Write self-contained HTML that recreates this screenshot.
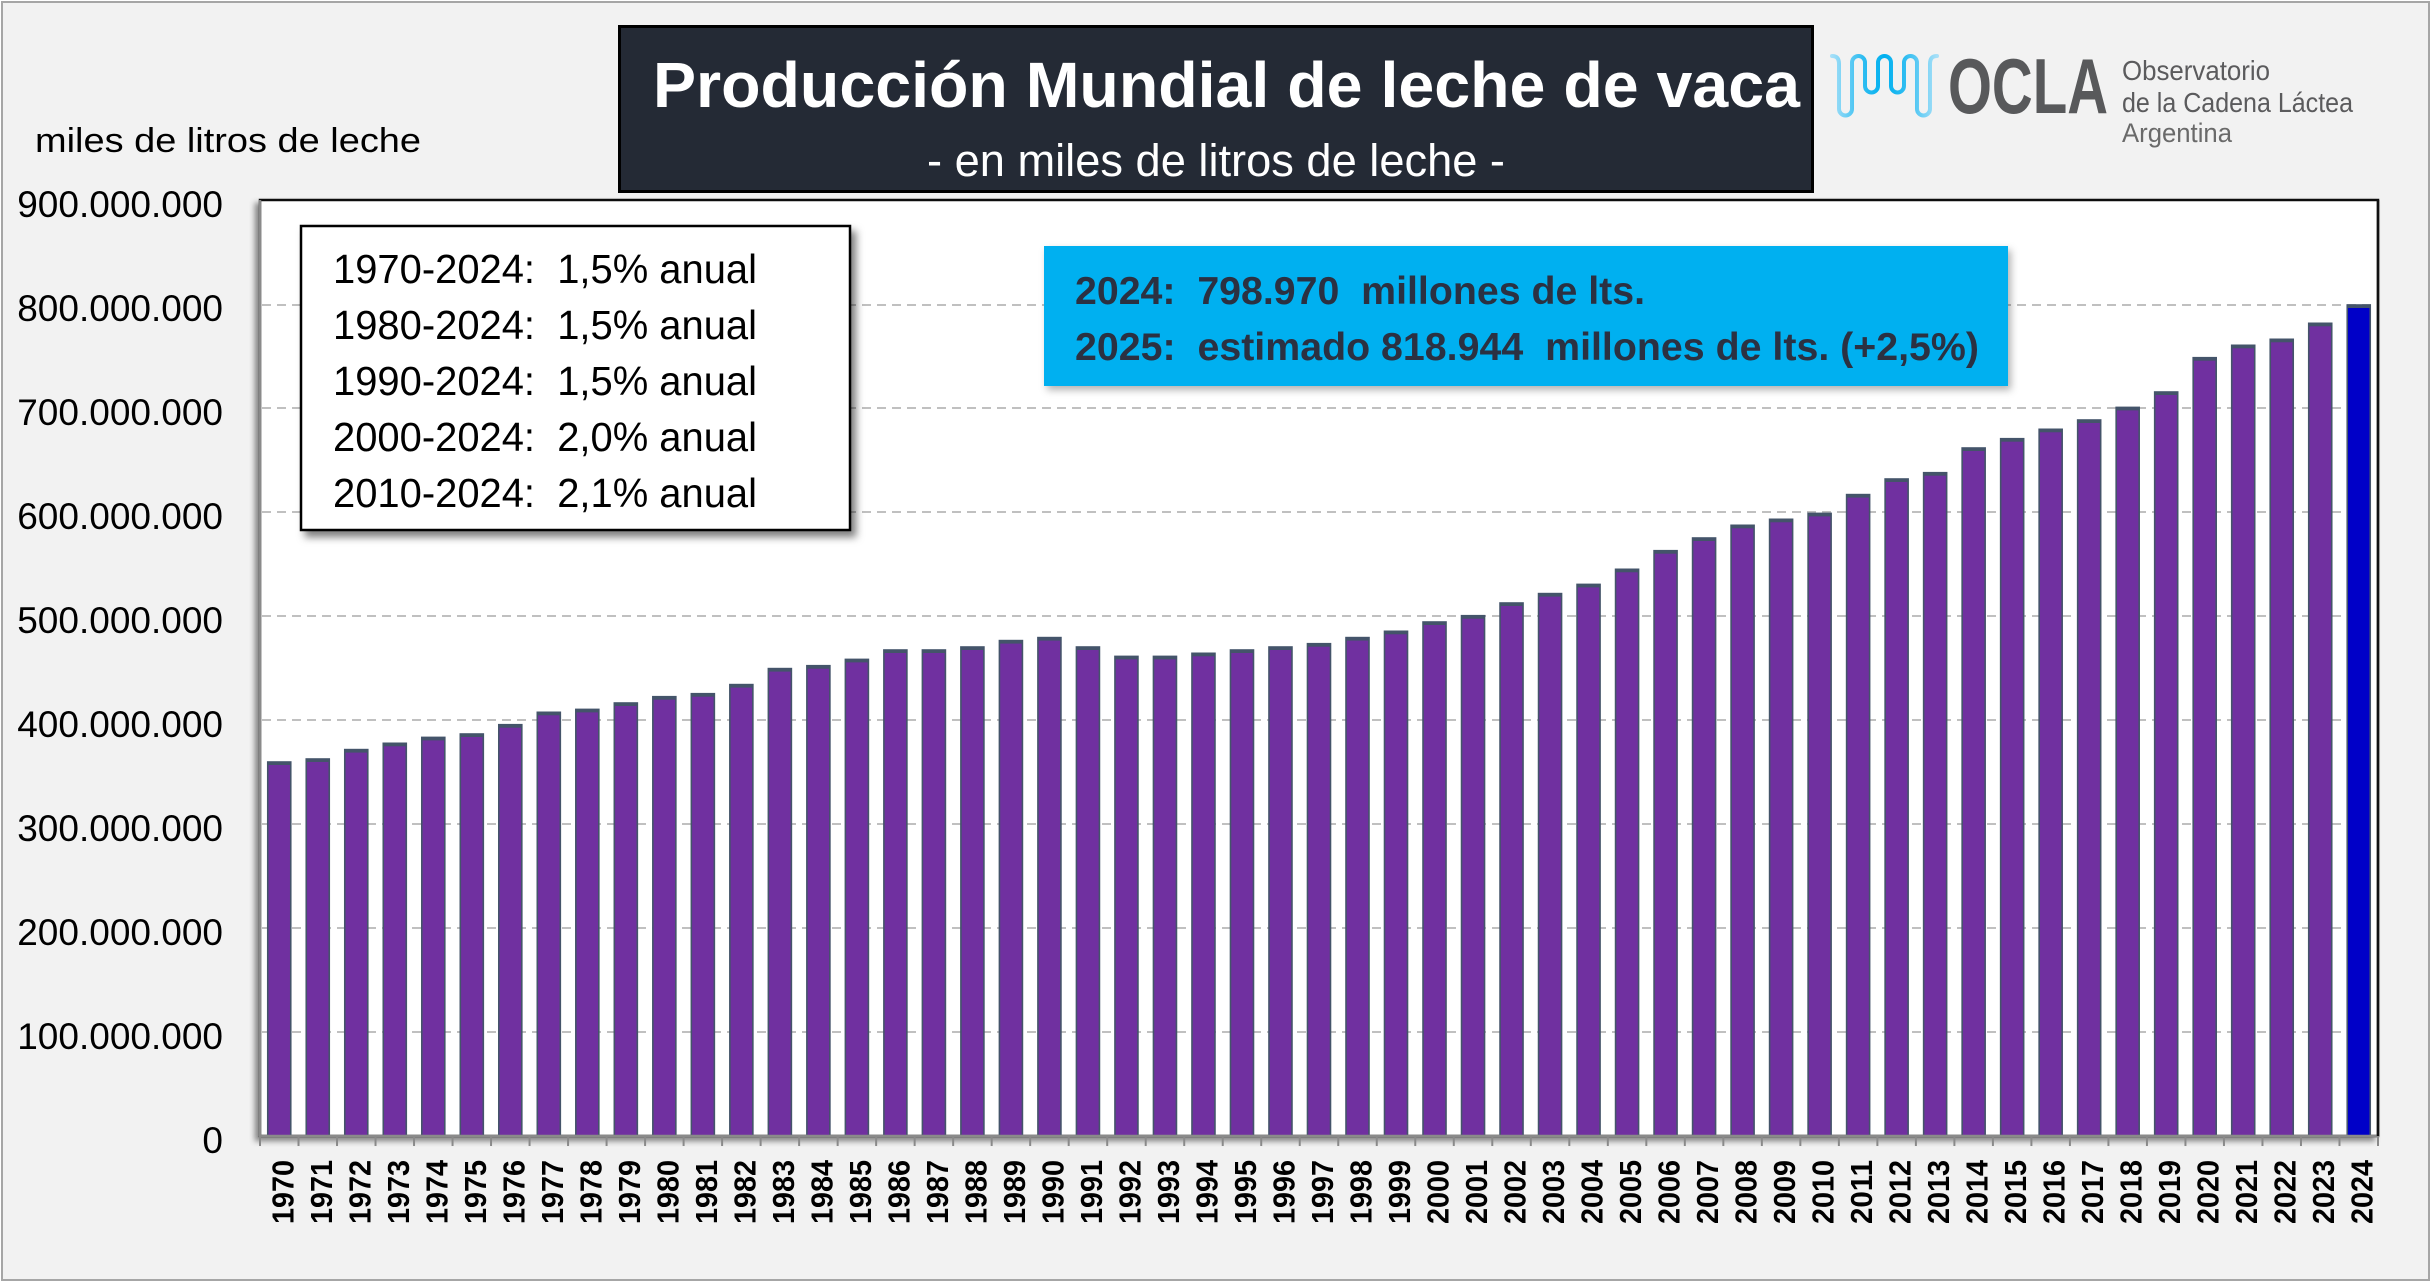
<!DOCTYPE html>
<html>
<head>
<meta charset="utf-8">
<style>
html,body{margin:0;padding:0;background:#ffffff;}
body{width:2434px;height:1282px;overflow:hidden;}
svg{display:block;}
text{white-space:pre;}
</style>
</head>
<body>
<svg width="2434" height="1282" viewBox="0 0 2434 1282" xmlns="http://www.w3.org/2000/svg">
<defs>
  <filter id="shPlot" x="-5%" y="-5%" width="110%" height="110%">
    <feDropShadow dx="-4" dy="4" stdDeviation="3" flood-color="#000" flood-opacity="0.45"/>
  </filter>
  <filter id="shBox" x="-10%" y="-10%" width="120%" height="130%">
    <feDropShadow dx="5" dy="6" stdDeviation="4" flood-color="#000" flood-opacity="0.5"/>
  </filter>
  <filter id="shBlue" x="-10%" y="-20%" width="120%" height="140%">
    <feDropShadow dx="3" dy="4" stdDeviation="4" flood-color="#000" flood-opacity="0.3"/>
  </filter>
  <linearGradient id="wave" x1="1831" y1="0" x2="1937" y2="0" gradientUnits="userSpaceOnUse">
    <stop offset="0" stop-color="#a8e0f8"/>
    <stop offset="0.3" stop-color="#2fbdf1"/>
    <stop offset="0.5" stop-color="#00b0f0"/>
    <stop offset="0.7" stop-color="#2fbdf1"/>
    <stop offset="1" stop-color="#a8e0f8"/>
  </linearGradient>
</defs>

<!-- outer background & frame -->
<rect x="2" y="2" width="2427" height="1278" fill="#f2f2f2" stroke="#a6a6a6" stroke-width="2"/>

<!-- plot area -->
<rect x="260" y="200" width="2118" height="936" fill="#ffffff" stroke="#111" stroke-width="2.5" filter="url(#shPlot)"/>

<!-- gridlines -->
<g stroke="#c0c0c0" stroke-width="2" stroke-dasharray="9 6">
  <line x1="262" y1="1032" x2="2376" y2="1032"/>
  <line x1="262" y1="928" x2="2376" y2="928"/>
  <line x1="262" y1="824" x2="2376" y2="824"/>
  <line x1="262" y1="720" x2="2376" y2="720"/>
  <line x1="262" y1="616" x2="2376" y2="616"/>
  <line x1="262" y1="512" x2="2376" y2="512"/>
  <line x1="262" y1="408" x2="2376" y2="408"/>
  <line x1="262" y1="305" x2="2376" y2="305"/>
</g>

<!-- bars -->
<g fill="#7030a0" stroke="#44546a" stroke-width="1.6">
<rect x="267.75" y="762.0" width="23" height="374.0"/>
<rect x="306.26" y="759.0" width="23" height="377.0"/>
<rect x="344.77" y="749.6" width="23" height="386.4"/>
<rect x="383.28" y="743.3" width="23" height="392.7"/>
<rect x="421.79" y="737.4" width="23" height="398.6"/>
<rect x="460.30" y="734.0" width="23" height="402.0"/>
<rect x="498.80" y="724.7" width="23" height="411.3"/>
<rect x="537.31" y="712.3" width="23" height="423.7"/>
<rect x="575.82" y="709.4" width="23" height="426.6"/>
<rect x="614.33" y="703.0" width="23" height="433.0"/>
<rect x="652.84" y="696.7" width="23" height="439.3"/>
<rect x="691.35" y="693.7" width="23" height="442.3"/>
<rect x="729.86" y="684.6" width="23" height="451.4"/>
<rect x="768.37" y="668.6" width="23" height="467.4"/>
<rect x="806.88" y="665.7" width="23" height="470.3"/>
<rect x="845.39" y="659.4" width="23" height="476.6"/>
<rect x="883.89" y="650.0" width="23" height="486.0"/>
<rect x="922.40" y="650.0" width="23" height="486.0"/>
<rect x="960.91" y="647.0" width="23" height="489.0"/>
<rect x="999.42" y="640.6" width="23" height="495.4"/>
<rect x="1037.93" y="637.6" width="23" height="498.4"/>
<rect x="1076.44" y="647.0" width="23" height="489.0"/>
<rect x="1114.95" y="656.4" width="23" height="479.6"/>
<rect x="1153.46" y="656.4" width="23" height="479.6"/>
<rect x="1191.97" y="653.3" width="23" height="482.7"/>
<rect x="1230.48" y="650.0" width="23" height="486.0"/>
<rect x="1268.98" y="647.0" width="23" height="489.0"/>
<rect x="1307.49" y="643.7" width="23" height="492.3"/>
<rect x="1346.00" y="637.6" width="23" height="498.4"/>
<rect x="1384.51" y="631.3" width="23" height="504.7"/>
<rect x="1423.02" y="622.0" width="23" height="514.0"/>
<rect x="1461.53" y="615.7" width="23" height="520.3"/>
<rect x="1500.04" y="603.0" width="23" height="533.0"/>
<rect x="1538.55" y="593.6" width="23" height="542.4"/>
<rect x="1577.06" y="584.4" width="23" height="551.6"/>
<rect x="1615.57" y="569.3" width="23" height="566.7"/>
<rect x="1654.07" y="550.7" width="23" height="585.3"/>
<rect x="1692.58" y="538.0" width="23" height="598.0"/>
<rect x="1731.09" y="525.3" width="23" height="610.7"/>
<rect x="1769.60" y="519.3" width="23" height="616.7"/>
<rect x="1808.11" y="513.4" width="23" height="622.6"/>
<rect x="1846.62" y="494.6" width="23" height="641.4"/>
<rect x="1885.13" y="479.0" width="23" height="657.0"/>
<rect x="1923.64" y="472.7" width="23" height="663.3"/>
<rect x="1962.15" y="448.0" width="23" height="688.0"/>
<rect x="2000.66" y="438.7" width="23" height="697.3"/>
<rect x="2039.16" y="429.3" width="23" height="706.7"/>
<rect x="2077.67" y="420.0" width="23" height="716.0"/>
<rect x="2116.18" y="407.4" width="23" height="728.6"/>
<rect x="2154.69" y="392.0" width="23" height="744.0"/>
<rect x="2193.20" y="357.7" width="23" height="778.3"/>
<rect x="2231.71" y="345.3" width="23" height="790.7"/>
<rect x="2270.22" y="339.3" width="23" height="796.7"/>
<rect x="2308.73" y="323.3" width="23" height="812.7"/>
<rect x="2347.24" y="305.0" width="23" height="831.0" fill="#0000c8"/>
</g>
<!-- bar top caps -->
<g fill="#44546a">
<rect x="267.75" y="762.0" width="23" height="3"/>
<rect x="306.26" y="759.0" width="23" height="3"/>
<rect x="344.77" y="749.6" width="23" height="3"/>
<rect x="383.28" y="743.3" width="23" height="3"/>
<rect x="421.79" y="737.4" width="23" height="3"/>
<rect x="460.30" y="734.0" width="23" height="3"/>
<rect x="498.80" y="724.7" width="23" height="3"/>
<rect x="537.31" y="712.3" width="23" height="3"/>
<rect x="575.82" y="709.4" width="23" height="3"/>
<rect x="614.33" y="703.0" width="23" height="3"/>
<rect x="652.84" y="696.7" width="23" height="3"/>
<rect x="691.35" y="693.7" width="23" height="3"/>
<rect x="729.86" y="684.6" width="23" height="3"/>
<rect x="768.37" y="668.6" width="23" height="3"/>
<rect x="806.88" y="665.7" width="23" height="3"/>
<rect x="845.39" y="659.4" width="23" height="3"/>
<rect x="883.89" y="650.0" width="23" height="3"/>
<rect x="922.40" y="650.0" width="23" height="3"/>
<rect x="960.91" y="647.0" width="23" height="3"/>
<rect x="999.42" y="640.6" width="23" height="3"/>
<rect x="1037.93" y="637.6" width="23" height="3"/>
<rect x="1076.44" y="647.0" width="23" height="3"/>
<rect x="1114.95" y="656.4" width="23" height="3"/>
<rect x="1153.46" y="656.4" width="23" height="3"/>
<rect x="1191.97" y="653.3" width="23" height="3"/>
<rect x="1230.48" y="650.0" width="23" height="3"/>
<rect x="1268.98" y="647.0" width="23" height="3"/>
<rect x="1307.49" y="643.7" width="23" height="3"/>
<rect x="1346.00" y="637.6" width="23" height="3"/>
<rect x="1384.51" y="631.3" width="23" height="3"/>
<rect x="1423.02" y="622.0" width="23" height="3"/>
<rect x="1461.53" y="615.7" width="23" height="3"/>
<rect x="1500.04" y="603.0" width="23" height="3"/>
<rect x="1538.55" y="593.6" width="23" height="3"/>
<rect x="1577.06" y="584.4" width="23" height="3"/>
<rect x="1615.57" y="569.3" width="23" height="3"/>
<rect x="1654.07" y="550.7" width="23" height="3"/>
<rect x="1692.58" y="538.0" width="23" height="3"/>
<rect x="1731.09" y="525.3" width="23" height="3"/>
<rect x="1769.60" y="519.3" width="23" height="3"/>
<rect x="1808.11" y="513.4" width="23" height="3"/>
<rect x="1846.62" y="494.6" width="23" height="3"/>
<rect x="1885.13" y="479.0" width="23" height="3"/>
<rect x="1923.64" y="472.7" width="23" height="3"/>
<rect x="1962.15" y="448.0" width="23" height="3"/>
<rect x="2000.66" y="438.7" width="23" height="3"/>
<rect x="2039.16" y="429.3" width="23" height="3"/>
<rect x="2077.67" y="420.0" width="23" height="3"/>
<rect x="2116.18" y="407.4" width="23" height="3"/>
<rect x="2154.69" y="392.0" width="23" height="3"/>
<rect x="2193.20" y="357.7" width="23" height="3"/>
<rect x="2231.71" y="345.3" width="23" height="3"/>
<rect x="2270.22" y="339.3" width="23" height="3"/>
<rect x="2308.73" y="323.3" width="23" height="3"/>
<rect x="2347.24" y="305.0" width="23" height="3"/>
</g>

<!-- axes -->
<line x1="260" y1="200" x2="260" y2="1136" stroke="#8a8a8a" stroke-width="2.5"/>
<line x1="259" y1="1136" x2="2379" y2="1136" stroke="#8a8a8a" stroke-width="2.5"/>
<path stroke="#8a8a8a" stroke-width="2" d="M260,1136V1146 M298.51,1136V1146 M337.02,1136V1146 M375.53,1136V1146 M414.04,1136V1146 M452.55,1136V1146 M491.05,1136V1146 M529.56,1136V1146 M568.07,1136V1146 M606.58,1136V1146 M645.09,1136V1146 M683.6,1136V1146 M722.11,1136V1146 M760.62,1136V1146 M799.13,1136V1146 M837.64,1136V1146 M876.14,1136V1146 M914.65,1136V1146 M953.16,1136V1146 M991.67,1136V1146 M1030.18,1136V1146 M1068.69,1136V1146 M1107.2,1136V1146 M1145.71,1136V1146 M1184.22,1136V1146 M1222.73,1136V1146 M1261.23,1136V1146 M1299.74,1136V1146 M1338.25,1136V1146 M1376.76,1136V1146 M1415.27,1136V1146 M1453.78,1136V1146 M1492.29,1136V1146 M1530.8,1136V1146 M1569.31,1136V1146 M1607.82,1136V1146 M1646.32,1136V1146 M1684.83,1136V1146 M1723.34,1136V1146 M1761.85,1136V1146 M1800.36,1136V1146 M1838.87,1136V1146 M1877.38,1136V1146 M1915.89,1136V1146 M1954.4,1136V1146 M1992.91,1136V1146 M2031.41,1136V1146 M2069.92,1136V1146 M2108.43,1136V1146 M2146.94,1136V1146 M2185.45,1136V1146 M2223.96,1136V1146 M2262.47,1136V1146 M2300.98,1136V1146 M2339.49,1136V1146 M2378,1136V1146"/>
<line x1="2378" y1="200" x2="2378" y2="1136" stroke="#111" stroke-width="2.5"/>

<!-- y-axis labels -->
<g font-family="Liberation Sans, Arial, sans-serif" font-size="37" fill="#000" text-anchor="end">
<text x="223" y="217">900.000.000</text>
<text x="223" y="321">800.000.000</text>
<text x="223" y="425">700.000.000</text>
<text x="223" y="529">600.000.000</text>
<text x="223" y="633">500.000.000</text>
<text x="223" y="737">400.000.000</text>
<text x="223" y="841">300.000.000</text>
<text x="223" y="945">200.000.000</text>
<text x="223" y="1049">100.000.000</text>
<text x="223" y="1153">0</text>
</g>

<text x="35" y="152" font-family="Liberation Sans, Arial, sans-serif" font-size="34" fill="#000" textLength="386" lengthAdjust="spacingAndGlyphs">miles de litros de leche</text>

<!-- x-axis labels -->
<g font-family="Liberation Sans, Arial, sans-serif" font-size="31" font-weight="bold" fill="#000" text-anchor="end">
<text transform="translate(293.25,1160) rotate(-90)" textLength="64" lengthAdjust="spacingAndGlyphs">1970</text>
<text transform="translate(331.76,1160) rotate(-90)" textLength="64" lengthAdjust="spacingAndGlyphs">1971</text>
<text transform="translate(370.27,1160) rotate(-90)" textLength="64" lengthAdjust="spacingAndGlyphs">1972</text>
<text transform="translate(408.78,1160) rotate(-90)" textLength="64" lengthAdjust="spacingAndGlyphs">1973</text>
<text transform="translate(447.29,1160) rotate(-90)" textLength="64" lengthAdjust="spacingAndGlyphs">1974</text>
<text transform="translate(485.8,1160) rotate(-90)" textLength="64" lengthAdjust="spacingAndGlyphs">1975</text>
<text transform="translate(524.3,1160) rotate(-90)" textLength="64" lengthAdjust="spacingAndGlyphs">1976</text>
<text transform="translate(562.81,1160) rotate(-90)" textLength="64" lengthAdjust="spacingAndGlyphs">1977</text>
<text transform="translate(601.32,1160) rotate(-90)" textLength="64" lengthAdjust="spacingAndGlyphs">1978</text>
<text transform="translate(639.83,1160) rotate(-90)" textLength="64" lengthAdjust="spacingAndGlyphs">1979</text>
<text transform="translate(678.34,1160) rotate(-90)" textLength="64" lengthAdjust="spacingAndGlyphs">1980</text>
<text transform="translate(716.85,1160) rotate(-90)" textLength="64" lengthAdjust="spacingAndGlyphs">1981</text>
<text transform="translate(755.36,1160) rotate(-90)" textLength="64" lengthAdjust="spacingAndGlyphs">1982</text>
<text transform="translate(793.87,1160) rotate(-90)" textLength="64" lengthAdjust="spacingAndGlyphs">1983</text>
<text transform="translate(832.38,1160) rotate(-90)" textLength="64" lengthAdjust="spacingAndGlyphs">1984</text>
<text transform="translate(870.89,1160) rotate(-90)" textLength="64" lengthAdjust="spacingAndGlyphs">1985</text>
<text transform="translate(909.39,1160) rotate(-90)" textLength="64" lengthAdjust="spacingAndGlyphs">1986</text>
<text transform="translate(947.9,1160) rotate(-90)" textLength="64" lengthAdjust="spacingAndGlyphs">1987</text>
<text transform="translate(986.41,1160) rotate(-90)" textLength="64" lengthAdjust="spacingAndGlyphs">1988</text>
<text transform="translate(1024.92,1160) rotate(-90)" textLength="64" lengthAdjust="spacingAndGlyphs">1989</text>
<text transform="translate(1063.43,1160) rotate(-90)" textLength="64" lengthAdjust="spacingAndGlyphs">1990</text>
<text transform="translate(1101.94,1160) rotate(-90)" textLength="64" lengthAdjust="spacingAndGlyphs">1991</text>
<text transform="translate(1140.45,1160) rotate(-90)" textLength="64" lengthAdjust="spacingAndGlyphs">1992</text>
<text transform="translate(1178.96,1160) rotate(-90)" textLength="64" lengthAdjust="spacingAndGlyphs">1993</text>
<text transform="translate(1217.47,1160) rotate(-90)" textLength="64" lengthAdjust="spacingAndGlyphs">1994</text>
<text transform="translate(1255.98,1160) rotate(-90)" textLength="64" lengthAdjust="spacingAndGlyphs">1995</text>
<text transform="translate(1294.48,1160) rotate(-90)" textLength="64" lengthAdjust="spacingAndGlyphs">1996</text>
<text transform="translate(1332.99,1160) rotate(-90)" textLength="64" lengthAdjust="spacingAndGlyphs">1997</text>
<text transform="translate(1371.5,1160) rotate(-90)" textLength="64" lengthAdjust="spacingAndGlyphs">1998</text>
<text transform="translate(1410.01,1160) rotate(-90)" textLength="64" lengthAdjust="spacingAndGlyphs">1999</text>
<text transform="translate(1448.52,1160) rotate(-90)" textLength="64" lengthAdjust="spacingAndGlyphs">2000</text>
<text transform="translate(1487.03,1160) rotate(-90)" textLength="64" lengthAdjust="spacingAndGlyphs">2001</text>
<text transform="translate(1525.54,1160) rotate(-90)" textLength="64" lengthAdjust="spacingAndGlyphs">2002</text>
<text transform="translate(1564.05,1160) rotate(-90)" textLength="64" lengthAdjust="spacingAndGlyphs">2003</text>
<text transform="translate(1602.56,1160) rotate(-90)" textLength="64" lengthAdjust="spacingAndGlyphs">2004</text>
<text transform="translate(1641.07,1160) rotate(-90)" textLength="64" lengthAdjust="spacingAndGlyphs">2005</text>
<text transform="translate(1679.57,1160) rotate(-90)" textLength="64" lengthAdjust="spacingAndGlyphs">2006</text>
<text transform="translate(1718.08,1160) rotate(-90)" textLength="64" lengthAdjust="spacingAndGlyphs">2007</text>
<text transform="translate(1756.59,1160) rotate(-90)" textLength="64" lengthAdjust="spacingAndGlyphs">2008</text>
<text transform="translate(1795.1,1160) rotate(-90)" textLength="64" lengthAdjust="spacingAndGlyphs">2009</text>
<text transform="translate(1833.61,1160) rotate(-90)" textLength="64" lengthAdjust="spacingAndGlyphs">2010</text>
<text transform="translate(1872.12,1160) rotate(-90)" textLength="64" lengthAdjust="spacingAndGlyphs">2011</text>
<text transform="translate(1910.63,1160) rotate(-90)" textLength="64" lengthAdjust="spacingAndGlyphs">2012</text>
<text transform="translate(1949.14,1160) rotate(-90)" textLength="64" lengthAdjust="spacingAndGlyphs">2013</text>
<text transform="translate(1987.65,1160) rotate(-90)" textLength="64" lengthAdjust="spacingAndGlyphs">2014</text>
<text transform="translate(2026.16,1160) rotate(-90)" textLength="64" lengthAdjust="spacingAndGlyphs">2015</text>
<text transform="translate(2064.66,1160) rotate(-90)" textLength="64" lengthAdjust="spacingAndGlyphs">2016</text>
<text transform="translate(2103.17,1160) rotate(-90)" textLength="64" lengthAdjust="spacingAndGlyphs">2017</text>
<text transform="translate(2141.68,1160) rotate(-90)" textLength="64" lengthAdjust="spacingAndGlyphs">2018</text>
<text transform="translate(2180.19,1160) rotate(-90)" textLength="64" lengthAdjust="spacingAndGlyphs">2019</text>
<text transform="translate(2218.7,1160) rotate(-90)" textLength="64" lengthAdjust="spacingAndGlyphs">2020</text>
<text transform="translate(2257.21,1160) rotate(-90)" textLength="64" lengthAdjust="spacingAndGlyphs">2021</text>
<text transform="translate(2295.72,1160) rotate(-90)" textLength="64" lengthAdjust="spacingAndGlyphs">2022</text>
<text transform="translate(2334.23,1160) rotate(-90)" textLength="64" lengthAdjust="spacingAndGlyphs">2023</text>
<text transform="translate(2372.74,1160) rotate(-90)" textLength="64" lengthAdjust="spacingAndGlyphs">2024</text>
</g>

<!-- title box -->
<rect x="619.5" y="26.5" width="1193" height="165" fill="#242a35" stroke="#000" stroke-width="3"/>
<text x="653" y="107" font-family="Liberation Sans, Arial, sans-serif" font-size="64" font-weight="bold" fill="#ffffff" textLength="1147" lengthAdjust="spacingAndGlyphs">Producción Mundial de leche de vaca</text>
<text x="927" y="176" font-family="Liberation Sans, Arial, sans-serif" font-size="45" fill="#ffffff" textLength="578" lengthAdjust="spacingAndGlyphs">- en miles de litros de leche -</text>

<!-- logo -->
<path d="M1832,56 C1837,56 1839,59 1839,64 L1839,109 A6.5,6.5 0 0 0 1852,109 L1852,62.5 A6.5,6.5 0 0 1 1865,62.5 L1865,86 A6.5,6.5 0 0 0 1878,86 L1878,62.5 A6.5,6.5 0 0 1 1891,62.5 L1891,86 A6.5,6.5 0 0 0 1904,86 L1904,62.5 A6.5,6.5 0 0 1 1917,62.5 L1917,109 A6.5,6.5 0 0 0 1930,109 L1930,64 C1930,59 1932,56 1937,56" fill="none" stroke="url(#wave)" stroke-width="4" stroke-linecap="round" stroke-linejoin="round"/>
<text x="1948" y="113" font-family="Liberation Sans, Arial, sans-serif" font-size="78" font-weight="bold" fill="#58595b" textLength="160" lengthAdjust="spacingAndGlyphs">OCLA</text>
<text x="2122" y="80" font-family="Liberation Sans, Arial, sans-serif" font-size="28" fill="#5b5b5d" textLength="148" lengthAdjust="spacingAndGlyphs">Observatorio</text>
<text x="2122" y="112" font-family="Liberation Sans, Arial, sans-serif" font-size="28" fill="#5b5b5d" textLength="231" lengthAdjust="spacingAndGlyphs">de la Cadena Láctea</text>
<text x="2122" y="142" font-family="Liberation Sans, Arial, sans-serif" font-size="27" fill="#6a6a6a" textLength="110" lengthAdjust="spacingAndGlyphs">Argentina</text>

<!-- growth-rate box -->
<rect x="301" y="226" width="549" height="304" fill="#ffffff" stroke="#000" stroke-width="2.5" filter="url(#shBox)"/>
<g font-family="Liberation Sans, Arial, sans-serif" font-size="41" fill="#000">
<text x="333" y="283" textLength="424" lengthAdjust="spacingAndGlyphs">1970-2024:  1,5% anual</text>
<text x="333" y="339" textLength="424" lengthAdjust="spacingAndGlyphs">1980-2024:  1,5% anual</text>
<text x="333" y="395" textLength="424" lengthAdjust="spacingAndGlyphs">1990-2024:  1,5% anual</text>
<text x="333" y="451" textLength="424" lengthAdjust="spacingAndGlyphs">2000-2024:  2,0% anual</text>
<text x="333" y="507" textLength="424" lengthAdjust="spacingAndGlyphs">2010-2024:  2,1% anual</text>
</g>

<!-- blue info box -->
<rect x="1044" y="246" width="964" height="140" fill="#00b0f0" filter="url(#shBlue)"/>
<g font-family="Liberation Sans, Arial, sans-serif" font-size="39" font-weight="bold" fill="#2b3142">
<text x="1075" y="304" textLength="570" lengthAdjust="spacingAndGlyphs">2024:  798.970  millones de lts.</text>
<text x="1075" y="360" textLength="904" lengthAdjust="spacingAndGlyphs">2025:  estimado 818.944  millones de lts. (+2,5%)</text>
</g>
</svg>
</body>
</html>
